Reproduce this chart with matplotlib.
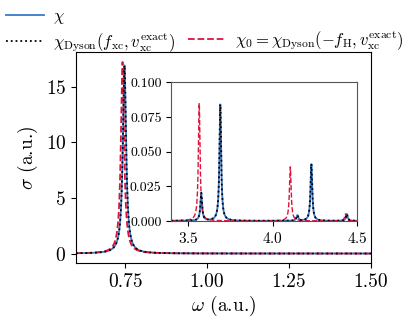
import numpy as np
import matplotlib
matplotlib.use('Agg')
import matplotlib.pyplot as plt
from matplotlib.lines import Line2D

plt.rcParams['font.family'] = 'serif'
plt.rcParams['font.serif'] = ['cmr10']
plt.rcParams['mathtext.fontset'] = 'cm'
plt.rcParams['axes.formatter.use_mathtext'] = True

# peak positions (a.u.) and heights
w_exact = [0.748, 3.577, 3.690, 4.147, 4.230, 4.440]
h_exact = [16.9, 0.020, 0.084, 0.004, 0.041, 0.005]
w_rpa = [0.742, 3.565, 4.105, 4.432]
h_rpa = [17.2, 0.085, 0.039, 0.005]
gamma = 0.006  # Lorentzian half width

omega = np.linspace(0.0, 5.0, 20001)

def spectrum(pos, heights):
    s = np.zeros_like(omega)
    for p, h in zip(pos, heights):
        s += h * gamma**2 / ((omega - p)**2 + gamma**2)
    return s

chi = spectrum(w_exact, h_exact)
chi_dyson = spectrum(w_exact, h_exact)
chi0 = spectrum(w_rpa, h_rpa)

fig = plt.figure(figsize=(4.15, 3.17), dpi=100)
ax = fig.add_axes([0.183, 0.170, 0.711, 0.666])

lab1 = r'$\chi$'
lab2 = r'$\chi_{\rm Dyson}(f_{\rm xc}, v_{\rm xc}^{\rm exact})$'
lab3 = r'$\chi_0 = \chi_{\rm Dyson}(-f_{\rm H}, v_{\rm xc}^{\rm exact})$'

l1, = ax.plot(omega, chi, color='#3a78c9', lw=1.3)
l3, = ax.plot(omega, chi0, color='crimson', ls='--', lw=1.3)
l2, = ax.plot(omega, chi_dyson, color='black', ls=':', lw=1.3)
ax.set_xlim(0.6, 1.5)
ax.set_ylim(-0.86, 18.1)
ax.set_xticks([0.75, 1.00, 1.25, 1.50])
ax.set_xticklabels(['0.75', '1.00', '1.25', '1.50'])
ax.set_yticks([0, 5, 10, 15])
ax.tick_params(labelsize=14)
ax.set_xlabel(r'$\omega$ (a.u.)', fontsize=14, labelpad=2)
ax.set_ylabel(r'$\sigma$ (a.u.)', fontsize=14, labelpad=4)

axin = fig.add_axes([0.413, 0.303, 0.447, 0.437])
axin.plot(omega, chi, color='#3a78c9', lw=1.3)
axin.plot(omega, chi0, color='crimson', ls='--', lw=1.0)
axin.plot(omega, chi_dyson, color='black', ls=':', lw=1.3)
axin.set_xlim(3.4, 4.5)
axin.set_ylim(0, 0.1)
axin.set_xticks([3.5, 4.0, 4.5])
axin.set_yticks([0, 0.025, 0.05, 0.075, 0.1])
axin.set_yticklabels(['0.000', '0.025', '0.050', '0.075', '0.100'])
axin.tick_params(axis='y', labelsize=10)
axin.tick_params(axis='x', labelsize=11)
for s in axin.spines.values():
    s.set_color('#555555')

blank = Line2D([], [], color='none')
fig.legend([l1, l2, blank, l3], [lab1, lab2, '', lab3], ncol=2,
           loc='upper left', bbox_to_anchor=(-0.022, 1.02), frameon=False,
           fontsize=12, handlelength=2.3, columnspacing=0.75,
           labelspacing=0.3, handletextpad=0.55)

fig.savefig('out.png', dpi=100)
